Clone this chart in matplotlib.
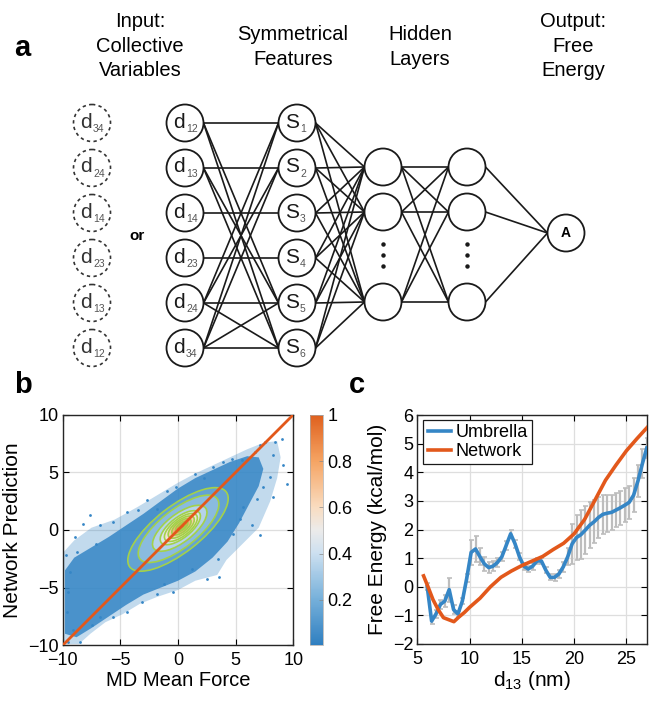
import matplotlib
matplotlib.use('Agg')
import matplotlib.pyplot as plt
from matplotlib.patches import Circle, Ellipse, Polygon
from matplotlib.colors import LinearSegmentedColormap, Normalize
from matplotlib.cm import ScalarMappable

plt.rcParams['font.family'] = ['Liberation Sans', 'DejaVu Sans']
plt.rcParams['mathtext.fontset'] = 'custom'
plt.rcParams['mathtext.rm'] = 'Liberation Sans'
plt.rcParams['mathtext.it'] = 'Liberation Sans'

# ---- panel a: network layout ----
alt_inputs = ['34', '24', '14', '23', '13', '12']
inputs = ['12', '13', '14', '23', '24', '34']
features = ['1', '2', '3', '4', '5', '6']
# (input index, feature index) connections
in_to_feat = [(0, 0), (0, 4), (0, 5), (1, 1), (1, 4), (1, 5), (2, 2), (3, 3),
              (4, 0), (4, 1), (4, 4), (4, 5), (5, 0), (5, 1), (5, 4), (5, 5)]
titles = ['Input:\nCollective\nVariables', 'Symmetrical\nFeatures',
          'Hidden\nLayers', 'Output:\nFree\nEnergy']

# ---- panel b data ----
cloud_outer_x = [-10, -10, -9.0, -7.5, -5.5, -3.5, -1.5, 0.0, 1.5, 3.0, 4.5, 6.0, 7.5, 8.6,
                 8.9, 8.6, 8.0, 7.0, 5.6, 4.2, 3.4, 1.5, 0.0, -1.8, -3.3, -4.8, -6.3, -7.6, -8.6]
cloud_outer_y = [-9.9, -2.0, -0.9, 0.2, 0.9, 2.0, 3.2, 4.1, 4.9, 5.6, 6.3, 7.0, 7.6, 7.7,
                 6.3, 4.5, 2.5, 0.2, -1.2, -2.6, -3.9, -4.4, -5.2, -5.8, -6.4, -7.3, -8.0, -9.0, -9.9]
cloud_core_x = [-9.8, -9.8, -9.0, -7.5, -6.0, -4.5, -3.0, -1.5, 0.0, 1.5, 3.0, 4.5, 6.0, 7.0,
                7.4, 7.0, 6.2, 5.3, 4.3, 3.0, 1.5, 0.0, -1.5, -3.0, -4.5, -6.0, -7.5, -8.8]
cloud_core_y = [-9.0, -3.5, -2.4, -1.5, -0.6, 0.4, 1.4, 2.5, 3.6, 4.5, 5.2, 5.9, 6.4, 6.3,
                5.3, 3.8, 2.3, 0.6, -1.0, -2.4, -3.6, -4.4, -5.0, -5.6, -6.5, -7.5, -8.5, -9.3]
stray_x = [-8.93, -8.2, -6.76, -7.6, -5.6, -4.45, -3.44, -2.72, -0.92, -1.85, -0.17, 1.47, 2.28,
           3.06, 3.93, 4.65, 5.52, 6.68, 7.1, 7.54, 8.4, 8.99, 8.27, 9.13, 7.98, 9.42, 8.27, 6.39,
           7.11, 4.8, 3.5, 3.58, 1.18, -0.4, -1.85, -1.21, -3.15, -4.45, -5.61, -6.76, -7.49, -8.5,
           -9.5, -9.08, -9.65, -9.5, -9.36, -9.71, -8.79, -7.1, 5.38, 5.66, 6.82, 7.4, 2.49]
stray_y = [-0.61, 0.55, 0.40, 1.27, 0.69, 1.56, 1.71, 2.57, 3.35, 1.85, 3.73, 4.83, 4.54,
           5.46, 5.9, 6.18, 6.04, 6.76, 7.34, 7.63, 7.63, 7.92, 6.47, 5.61, 4.6, 4.02, 2.86, 0.4,
           -0.46, -0.32, -2.49, -4.08, -3.35, -5.38, -5.52, -4.65, -6.24, -7.11, -7.54, -7.54, -8.27, -9.71,
           -9.71, -8.7, -7.11, -5.38, -3.64, -2.2, -1.91, -1.18, 0.98, 2.0, 2.72, 3.73, -4.22]
contour_levels = [0.1, 0.2, 0.3, 0.4, 0.5, 0.6, 0.7, 0.8, 0.9]
contour_a = [5.3, 4.25, 2.85, 2.1, 1.72, 1.36, 1.0, 0.64, 0.34]
contour_b = [2.0, 1.65, 1.2, 0.9, 0.75, 0.6, 0.46, 0.3, 0.17]
contour_cx = [0.0, 0.05, 0.15, 0.2, 0.25, 0.28, 0.3, 0.32, 0.35]
contour_cy = [0.05, 0.1, 0.15, 0.2, 0.22, 0.25, 0.28, 0.3, 0.3]
contour_angle = 38
cbar_ticks = [0.2, 0.4, 0.6, 0.8, 1]
cbar_labels = ['0.2', '0.4', '0.6', '0.8', '1']

# ---- panel c data ----
umb_x = [5.95, 6.37, 6.79, 7.21, 7.63, 8.05, 8.47, 8.89, 9.31, 9.73, 10.15, 10.57, 10.99,
         11.41, 11.83, 12.25, 12.67, 13.09, 13.51, 13.93, 14.35, 14.77, 15.19, 15.61, 16.03,
         16.45, 16.87, 17.29, 17.71, 18.13, 18.55, 18.97, 19.39, 19.81, 20.23, 20.65, 21.07,
         21.49, 21.91, 22.33, 22.75, 23.17, 23.59, 24.01, 24.43, 24.85, 25.27, 25.69, 26.11,
         26.53, 26.95]
umb_y = [0.0, -1.2, -0.95, -0.62, -0.5, -0.1, -0.8, -0.95, -0.5, 0.3, 1.2, 1.32, 1.05,
         0.8, 0.67, 0.72, 0.85, 1.05, 1.45, 1.85, 1.5, 1.05, 0.72, 0.62, 0.72,
         0.9, 0.9, 0.58, 0.33, 0.33, 0.45, 0.7, 1.05, 1.5, 1.72, 1.82, 1.98,
         2.15, 2.27, 2.42, 2.53, 2.57, 2.6, 2.68, 2.76, 2.85, 2.95, 3.2, 3.7,
         4.3, 4.85]
umb_err = [0.12, 0.1, 0.15, 0.15, 0.2, 0.42, 0.15, 0.12, 0.12, 0.15, 0.45, 0.45, 0.3,
           0.25, 0.2, 0.18, 0.15, 0.15, 0.15, 0.15, 0.15, 0.12, 0.12, 0.1, 0.12,
           0.12, 0.12, 0.1, 0.1, 0.12, 0.15, 0.18, 0.3, 0.7, 0.8, 0.85, 0.85,
           0.8, 0.75, 0.7, 0.68, 0.65, 0.62, 0.6, 0.6, 0.6, 0.58, 0.6, 0.55,
           0.5, 0.35]
net_x = [5.6, 6.0, 6.5, 7.0, 7.5, 8.0, 8.5, 9.0, 9.5, 10.0, 11.0, 12.0, 13.0, 14.0, 15.0,
         16.0, 17.0, 18.0, 19.0, 20.0, 21.0, 22.0, 23.0, 24.0, 25.0, 26.0, 27.0]
net_y = [0.38, 0.02, -0.45, -0.8, -1.08, -1.15, -1.22, -1.05, -0.9, -0.72, -0.4, 0.0, 0.33,
         0.55, 0.74, 0.9, 1.06, 1.3, 1.52, 1.85, 2.35, 3.03, 3.72, 4.25, 4.75, 5.17, 5.57]

blue = '#3586c6'
orange = '#e2581b'
green = '#a3d14a'
grid_c = '#dedede'

cmap = LinearSegmentedColormap.from_list('bwo', [
    (0.0, '#2f7fc0'), (0.2, '#76b0da'), (0.4, '#cde0f0'), (0.5, '#ecebea'),
    (0.6, '#f9dcc0'), (0.8, '#f5a463'), (1.0, '#df601e')])
norm = Normalize(vmin=0.004, vmax=1.0)

fig = plt.figure(figsize=(6.49, 7.02), dpi=100)

# ================= panel a =================
H = 370
ax_a = fig.add_axes([0, 1 - H / 702, 1, H / 702])
ax_a.set_xlim(0, 649)
ax_a.set_ylim(H, 0)
ax_a.axis('off')

row_y = [123, 168, 213, 258, 303, 348]
x_alt, x_in, x_feat, x_h1, x_h2, x_out = 92, 185, 297, 383, 467, 566
r = 18.5
hid_y = [167, 212, 302]
out_y = 233
line_kw = dict(color='#1a1a1a', lw=1.2, zorder=1)

for i, j in in_to_feat:
    ax_a.plot([x_in + r, x_feat - r], [row_y[i], row_y[j]], **line_kw)
for j in range(len(features)):
    for k in range(len(hid_y)):
        ax_a.plot([x_feat + r, x_h1 - r], [row_y[j], hid_y[k]], **line_kw)
for k in range(len(hid_y)):
    for m in range(len(hid_y)):
        ax_a.plot([x_h1 + r, x_h2 - r], [hid_y[k], hid_y[m]], **line_kw)
for m in range(len(hid_y)):
    ax_a.plot([x_h2 + r, x_out - r], [hid_y[m], out_y], **line_kw)


def node_label(x, y, main, sub, color='#1a1a1a'):
    ax_a.text(x - 4, y - 1, main, fontsize=15, ha='right', va='center', color=color, zorder=3)
    ax_a.text(x - 3, y + 6, sub, fontsize=7.5, ha='left', va='center', color='#555555', zorder=3)


for i, lab in enumerate(alt_inputs):
    ax_a.add_patch(Circle((x_alt, row_y[i]), r, fill=False, ls=(0, (2, 2)),
                          lw=1.2, ec='#333333', zorder=2))
    node_label(x_alt + 4, row_y[i], 'd', lab, '#333333')
for i, lab in enumerate(inputs):
    ax_a.add_patch(Circle((x_in, row_y[i]), r, fc='white', ec='#1a1a1a', lw=1.3, zorder=2))
    node_label(x_in + 4, row_y[i], 'd', lab)
for j, lab in enumerate(features):
    ax_a.add_patch(Circle((x_feat, row_y[j]), r, fc='white', ec='#1a1a1a', lw=1.3, zorder=2))
    node_label(x_feat + 6, row_y[j], 'S', lab)
for xh in (x_h1, x_h2):
    for k in range(len(hid_y)):
        ax_a.add_patch(Circle((xh, hid_y[k]), r, fc='white', ec='#1a1a1a', lw=1.3, zorder=2))
    ax_a.plot([xh] * 3, [244, 255, 266], ls='none', marker='o', ms=2.2, color='#1a1a1a')
ax_a.add_patch(Circle((x_out, out_y), r, fc='white', ec='#1a1a1a', lw=1.3, zorder=2))
ax_a.text(x_out, out_y, 'A', fontsize=10, fontweight='bold', ha='center', va='center', zorder=3)
ax_a.text(137, 236, 'or', fontsize=11, fontweight='bold', ha='center', va='center')

for (tx, ty), t in zip([(140, 46), (293, 47), (420, 47), (573, 46)], titles):
    ax_a.text(tx, ty, t, fontsize=14.5, ha='center', va='center', linespacing=1.35)

fig.text(22 / 649, 1 - 48 / 702, 'a', fontsize=21, fontweight='bold', ha='center', va='center')
fig.text(23 / 649, 1 - 385 / 702, 'b', fontsize=21, fontweight='bold', ha='center', va='center')
fig.text(357 / 649, 1 - 385 / 702, 'c', fontsize=21, fontweight='bold', ha='center', va='center')


def style_axes(ax):
    ax.grid(True, color=grid_c, lw=0.9)
    ax.set_axisbelow(True)
    ax.tick_params(direction='in', length=4, width=0.8, top=True, right=True,
                   labelsize=13, pad=3)
    ax.tick_params(axis='x', pad=5)
    for s in ax.spines.values():
        s.set_linewidth(1.0)
        s.set_color('#262626')


# ================= panel b =================
ax_b = fig.add_axes([62.7 / 649, 1 - 645.3 / 702, 230.6 / 649, 230.6 / 702])
style_axes(ax_b)
ax_b.add_patch(Polygon(list(zip(cloud_outer_x, cloud_outer_y)), closed=True,
                       fc=blue, ec='none', alpha=0.3, zorder=2))
ax_b.add_patch(Polygon(list(zip(cloud_core_x, cloud_core_y)), closed=True,
                       fc=blue, ec='none', alpha=0.85, zorder=2))
ax_b.scatter(stray_x, stray_y, s=4, color=blue, lw=0, zorder=3)
for k in range(len(contour_levels)):
    ax_b.add_patch(Ellipse((contour_cx[k], contour_cy[k]), 2 * contour_a[k], 2 * contour_b[k],
                           angle=contour_angle, fc=cmap(norm(contour_levels[k] + 0.05)),
                           ec='none', zorder=4))
for k in range(len(contour_levels)):
    ax_b.add_patch(Ellipse((contour_cx[k], contour_cy[k]), 2 * contour_a[k], 2 * contour_b[k],
                           angle=contour_angle, fill=False, ec=green, lw=1.2, zorder=5))
ax_b.plot([-10, 10], [-10, 10], color=orange, lw=2, zorder=6)
ax_b.set_xlim(-10, 10)
ax_b.set_ylim(-10, 10)
ax_b.set_xticks([-10, -5, 0, 5, 10])
ax_b.set_yticks([-10, -5, 0, 5, 10])
ax_b.set_xlabel('MD Mean Force', fontsize=14.5, labelpad=1)
ax_b.set_ylabel('Network Prediction', fontsize=15, labelpad=4)

cax = fig.add_axes([310 / 649, 1 - 645.3 / 702, 12.5 / 649, 230.6 / 702])
cb = fig.colorbar(ScalarMappable(norm=norm, cmap=cmap), cax=cax, ticks=cbar_ticks)
cb.ax.set_yticklabels(cbar_labels)
cb.ax.tick_params(labelsize=13, direction='in', length=3, width=0.5, color='#888888')
cb.outline.set_linewidth(0.5)
cb.outline.set_edgecolor('#aaaaaa')

# ================= panel c =================
ax_c = fig.add_axes([417.3 / 649, 1 - 644 / 702, 230 / 649, 229 / 702])
style_axes(ax_c)
ax_c.errorbar(umb_x, umb_y, yerr=umb_err, fmt='none', ecolor='#bdbdbd', elinewidth=1.6,
              capsize=1.8, capthick=1.2, zorder=2)
ax_c.plot(umb_x, umb_y, color=blue, lw=2.6, label='Umbrella', zorder=3)
ax_c.plot(net_x, net_y, color=orange, lw=2.6, label='Network', zorder=4)
ax_c.set_xlim(5, 27)
ax_c.set_ylim(-2, 6)
ax_c.set_xticks([5, 10, 15, 20, 25])
ax_c.set_yticks([-2, -1, 0, 1, 2, 3, 4, 5, 6])
ax_c.set_xlabel(r'$\mathregular{d_{13}}$ (nm)', fontsize=15, labelpad=1)
ax_c.set_ylabel('Free Energy (kcal/mol)', fontsize=15, labelpad=4)
leg = ax_c.legend(loc='upper left', bbox_to_anchor=(0.025, 0.98), borderaxespad=0,
                  fontsize=13, handlelength=1.3, handletextpad=0.25, borderpad=0.25,
                  labelspacing=0.1, fancybox=False, framealpha=1, edgecolor='#1a1a1a')
leg.get_frame().set_linewidth(0.9)

fig.savefig('out.png', dpi=100)
